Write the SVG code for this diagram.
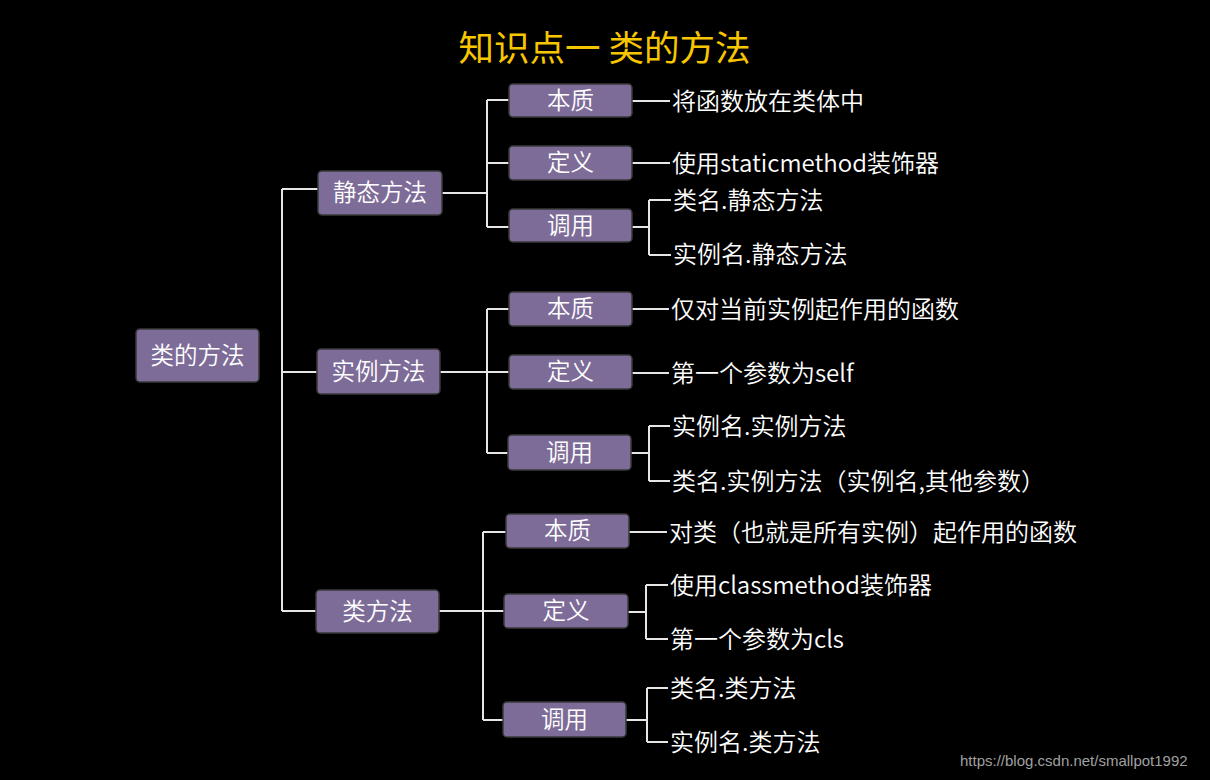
<svg xmlns="http://www.w3.org/2000/svg" width="1210" height="780" viewBox="0 0 1210 780">
<style>
.node rect{fill:#7e6c98;stroke:#3a3a3a;stroke-width:1.5}
.node text{fill:#ffffff;font-family:"Noto Sans CJK SC","Noto Sans",sans-serif;font-weight:350;font-size:23.5px;text-anchor:middle;dominant-baseline:central}
.leaf{fill:#ffffff;font-family:"Noto Sans CJK SC","Noto Sans",sans-serif;font-weight:350;font-size:24px;dominant-baseline:central}
#connectors path{fill:none;stroke:#e6e6e6;stroke-width:2}
</style>
<rect x="0" y="0" width="1210" height="780" fill="#000000"/>
<text x="604.5" y="45" fill="#f7c600" font-family="'Noto Sans CJK SC','Noto Sans',sans-serif" font-weight="400" font-size="35.5px" text-anchor="middle" dominant-baseline="central">知识点一 类的方法</text>
<g id="connectors">
<path d="M282,189 V611 M282,189 H318 M282,372 H317 M282,611 H316"/>
<path d="M442,193 H487 M487,100 V227 M487,100 H509 M487,163 H509 M487,227 H509"/>
<path d="M440,372 H509 M487,309 V453 M487,309 H509 M487,453 H508"/>
<path d="M439,611 H504 M483,532 V720 M483,532 H506 M483,720 H503"/>
<path d="M632,101 H670 M632,163 H670 M632,227 H649 M649,200 V255 M649,200 H671 M649,255 H671"/>
<path d="M632,309 H669 M632,373 H669 M631,453 H649 M649,426 V481 M649,426 H670 M649,481 H670"/>
<path d="M629,532 H667 M628,612 H646 M646,585 V639 M646,585 H668 M646,639 H668 M626,720 H647 M647,688 V742 M647,688 H668 M647,742 H668"/>
</g>
<g id="root" class="node"><rect x="136" y="329" width="123" height="53" rx="4"/><text x="197.5" y="353.5">类的方法</text></g>
<g id="static" class="node"><rect x="318" y="171" width="124" height="44" rx="4"/><text x="380" y="191">静态方法</text></g>
<g id="instance" class="node"><rect x="317" y="349" width="123" height="45" rx="4"/><text x="378.5" y="369.5">实例方法</text></g>
<g id="classm" class="node"><rect x="316" y="590" width="123" height="43" rx="4"/><text x="377.5" y="609.5">类方法</text></g>
<g id="static-essence" class="node"><rect x="509" y="84" width="123" height="33" rx="4"/><text x="570.5" y="98.5">本质</text></g>
<g id="static-def" class="node"><rect x="509" y="146" width="123" height="34" rx="4"/><text x="570.5" y="161">定义</text></g>
<g id="static-call" class="node"><rect x="509" y="209" width="123" height="33" rx="4"/><text x="570.5" y="223.5">调用</text></g>
<g id="inst-essence" class="node"><rect x="509" y="292" width="123" height="34" rx="4"/><text x="570.5" y="307">本质</text></g>
<g id="inst-def" class="node"><rect x="509" y="355" width="123" height="34" rx="4"/><text x="570.5" y="370">定义</text></g>
<g id="inst-call" class="node"><rect x="508" y="435" width="123" height="35" rx="4"/><text x="569.5" y="450.5">调用</text></g>
<g id="cls-essence" class="node"><rect x="506" y="514" width="123" height="34" rx="4"/><text x="567.5" y="529">本质</text></g>
<g id="cls-def" class="node"><rect x="504" y="594" width="124" height="34" rx="4"/><text x="566" y="609">定义</text></g>
<g id="cls-call" class="node"><rect x="503" y="702" width="123" height="35" rx="4"/><text x="564.5" y="717.5">调用</text></g>
<g id="leaf-s1"><text class="leaf" x="672" y="99">将函数放在类体中</text></g>
<g id="leaf-s2"><text class="leaf" x="672" y="161">使用staticmethod装饰器</text></g>
<g id="leaf-s3"><text class="leaf" x="673" y="198">类名.静态方法</text></g>
<g id="leaf-s4"><text class="leaf" x="673" y="252">实例名.静态方法</text></g>
<g id="leaf-i1"><text class="leaf" x="671" y="307">仅对当前实例起作用的函数</text></g>
<g id="leaf-i2"><text class="leaf" x="671" y="371">第一个参数为self</text></g>
<g id="leaf-i3"><text class="leaf" x="672" y="424">实例名.实例方法</text></g>
<g id="leaf-i4"><text class="leaf" x="672" y="479">类名.实例方法（实例名,其他参数）</text></g>
<g id="leaf-c1"><text class="leaf" x="669" y="530">对类（也就是所有实例）起作用的函数</text></g>
<g id="leaf-c2"><text class="leaf" x="670" y="583">使用classmethod装饰器</text></g>
<g id="leaf-c3"><text class="leaf" x="670" y="637">第一个参数为cls</text></g>
<g id="leaf-c4"><text class="leaf" x="670" y="686">类名.类方法</text></g>
<g id="leaf-c5"><text class="leaf" x="670" y="740">实例名.类方法</text></g>
<text x="960" y="760" fill="#a0a0a0" font-family="'Liberation Sans',Arial,sans-serif" font-size="15px" dominant-baseline="central">https://blog.csdn.net/smallpot1992</text>
</svg>
